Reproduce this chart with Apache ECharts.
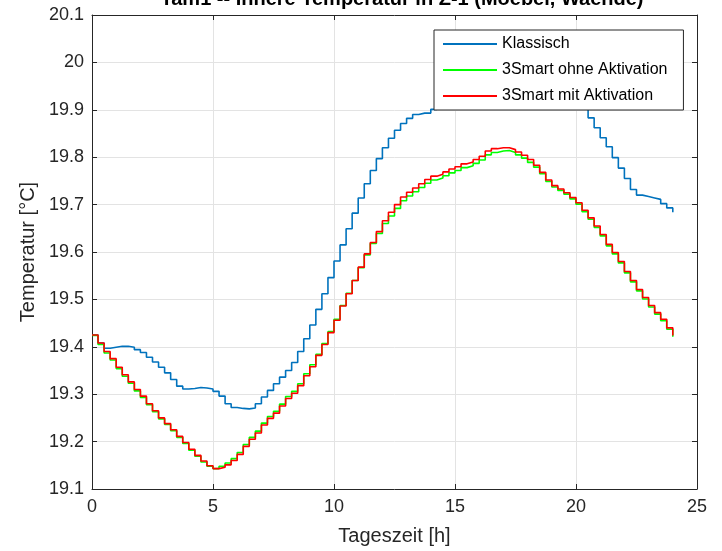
<!DOCTYPE html>
<html>
<head>
<meta charset="utf-8">
<script src="https://cdn.jsdelivr.net/npm/echarts@6/dist/echarts.min.js"></script>
<style>
  html, body { margin: 0; padding: 0; background: #fff; }
  #chart { width: 722px; height: 551px; }
</style>
</head>
<body>
<div id="chart"></div>
<script>
// 15-minute steps, 0 .. 24 h (97 values each)
const klassisch = [
  19.425, 19.408, 19.397, 19.399, 19.401, 19.401, 19.399, 19.394, 19.388, 19.378,
  19.368, 19.357, 19.345, 19.331, 19.317, 19.311, 19.312, 19.314, 19.313, 19.311,
  19.306, 19.296, 19.280, 19.272, 19.270, 19.269, 19.271, 19.280, 19.294, 19.308,
  19.322, 19.336, 19.350, 19.367, 19.390, 19.417, 19.446, 19.479, 19.512, 19.546,
  19.581, 19.615, 19.649, 19.682, 19.714, 19.744, 19.772, 19.797, 19.820, 19.840,
  19.857, 19.871, 19.882, 19.890, 19.893, 19.893, 19.901, 19.918, 19.928, 19.936,
  19.944, 19.952, 19.958, 19.964, 19.970, 19.976, 19.980, 19.984, 19.986, 19.986,
  19.984, 19.980, 19.975, 19.968, 19.960, 19.952, 19.945, 19.938, 19.930, 19.922,
  19.915, 19.902, 19.883, 19.862, 19.841, 19.822, 19.799, 19.777, 19.755, 19.732,
  19.720, 19.717, 19.714, 19.711, 19.702, 19.693, 19.684
]
const ohneAktivation = [
  19.424, 19.405, 19.387, 19.372, 19.354, 19.338, 19.323, 19.307, 19.293, 19.278,
  19.263, 19.248, 19.236, 19.223, 19.209, 19.196, 19.182, 19.169, 19.157, 19.148,
  19.143, 19.148, 19.155, 19.164, 19.177, 19.194, 19.209, 19.222, 19.239, 19.253,
  19.264, 19.279, 19.295, 19.306, 19.322, 19.343, 19.362, 19.384, 19.407, 19.432,
  19.458, 19.487, 19.513, 19.540, 19.567, 19.594, 19.618, 19.639, 19.660, 19.676,
  19.692, 19.708, 19.718, 19.727, 19.736, 19.745, 19.752, 19.756, 19.761, 19.767,
  19.772, 19.778, 19.782, 19.787, 19.794, 19.805, 19.810, 19.813, 19.814, 19.810,
  19.805, 19.798, 19.789, 19.779, 19.765, 19.749, 19.737, 19.730, 19.722, 19.712,
  19.701, 19.685, 19.669, 19.652, 19.634, 19.613, 19.596, 19.577, 19.556, 19.537,
  19.518, 19.501, 19.484, 19.469, 19.455, 19.437, 19.421
]
const mitAktivation = [
  19.425, 19.408, 19.390, 19.375, 19.357, 19.341, 19.326, 19.310, 19.296, 19.280,
  19.265, 19.250, 19.238, 19.225, 19.211, 19.198, 19.184, 19.171, 19.159, 19.149,
  19.143, 19.146, 19.151, 19.160, 19.173, 19.190, 19.205, 19.218, 19.235, 19.249,
  19.260, 19.275, 19.291, 19.302, 19.318, 19.339, 19.358, 19.382, 19.405, 19.430,
  19.456, 19.486, 19.512, 19.540, 19.568, 19.596, 19.620, 19.643, 19.666, 19.684,
  19.700, 19.716, 19.726, 19.735, 19.744, 19.753, 19.760, 19.764, 19.769, 19.775,
  19.780, 19.786, 19.790, 19.795, 19.802, 19.813, 19.818, 19.820, 19.820, 19.816,
  19.811, 19.804, 19.795, 19.783, 19.768, 19.752, 19.740, 19.733, 19.725, 19.715,
  19.704, 19.688, 19.672, 19.655, 19.637, 19.616, 19.599, 19.580, 19.559, 19.540,
  19.521, 19.504, 19.487, 19.472, 19.458, 19.440, 19.424
]
const hours = klassisch.map((_, i) => i * 0.25)

const seriesNames = ['Klassisch', '3Smart ohne Aktivation', '3Smart mit Aktivation']
const seriesColors = ['#0072BD', '#00FF00', '#FF0000']
const seriesData = [klassisch, ohneAktivation, mitAktivation]

const font = 'Liberation Sans, Arial, Helvetica, sans-serif'
const axisColor = '#262626'

const chart = echarts.init(document.getElementById('chart'))

function boxAxis(type, pos) {
    // extra axis only for the MATLAB-style box and inner ticks
    return {
        type: 'value',
        position: pos,
        min: type === 'x' ? 0 : 19.1,
        max: type === 'x' ? 25 : 20.1,
        interval: type === 'x' ? 5 : 0.1,
        axisLine: { show: true, onZero: false, lineStyle: { color: axisColor, width: 1 } },
        axisTick: { show: true, inside: true, length: 5, lineStyle: { color: axisColor } },
        axisLabel: { show: false },
        splitLine: { show: false },
    }
}

chart.setOption({
    animation: false,
    textStyle: { fontFamily: font },
    title: {
        text: 'Tam1 -- Innere Temperatur in Z-1 (Moebel, Waende)',
        left: 397,
        textAlign: 'center',
        top: -16,
        textStyle: { fontSize: 20, fontWeight: 'bold', color: '#000', fontFamily: font },
    },
    grid: { left: 92, right: 25, top: 15, bottom: 60 },
    legend: {
        data: seriesNames,
        orient: 'vertical',
        left: 434,
        top: 30,
        padding: [6, 16, 6, 8],
        itemWidth: 54,
        itemHeight: 14,
        itemGap: 10,
        itemStyle: { opacity: 0 },
        backgroundColor: '#fff',
        borderColor: axisColor,
        borderWidth: 1,
        textStyle: { fontSize: 16, color: '#000', fontFamily: font },
    },
    xAxis: [
        {
            type: 'value',
            min: 0,
            max: 25,
            interval: 5,
            name: 'Tageszeit [h]',
            nameLocation: 'center',
            nameGap: 37,
            nameTextStyle: { fontSize: 20, color: axisColor, fontFamily: font },
            axisLine: { show: true, onZero: false, lineStyle: { color: axisColor, width: 1 } },
            axisTick: { show: true, inside: true, length: 5, lineStyle: { color: axisColor } },
            axisLabel: { fontSize: 18, color: axisColor, margin: 9, fontFamily: font },
            splitLine: { show: true, lineStyle: { color: '#e3e3e3', width: 1 } },
        },
        boxAxis('x', 'top'),
    ],
    yAxis: [
        {
            type: 'value',
            min: 19.1,
            max: 20.1,
            interval: 0.1,
            name: 'Temperatur [°C]',
            nameLocation: 'center',
            nameGap: 50,
            nameTextStyle: { fontSize: 20, color: axisColor, fontFamily: font },
            axisLine: { show: true, lineStyle: { color: axisColor, width: 1 } },
            axisTick: { show: true, inside: true, length: 5, lineStyle: { color: axisColor } },
            axisLabel: { fontSize: 18, color: axisColor, margin: 8, fontFamily: font },
            splitLine: { show: true, lineStyle: { color: '#e3e3e3', width: 1 } },
        },
        boxAxis('y', 'right'),
    ],
    series: seriesNames.map((name, k) => ({
        name: name,
        type: 'line',
        step: 'end',
        symbol: 'none',
        data: hours.map((h, i) => [h, seriesData[k][i]]),
        lineStyle: { color: seriesColors[k], width: 1.6 },
        itemStyle: { color: seriesColors[k] },
        z: 2 + k,
    })),
})
</script>
</body>
</html>
